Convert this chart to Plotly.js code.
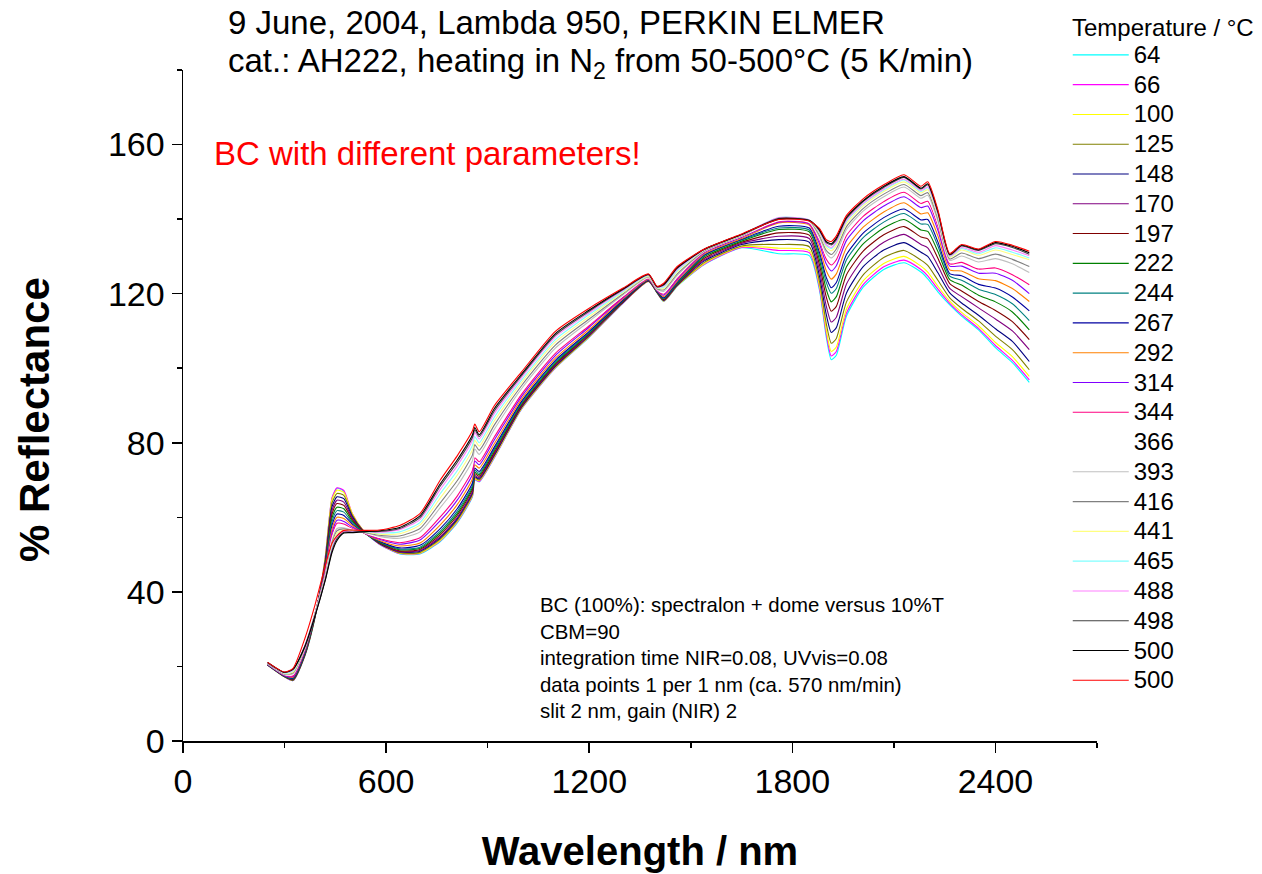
<!DOCTYPE html>
<html><head><meta charset="utf-8">
<script src="https://cdn.plot.ly/plotly-3.0.1.min.js"></script>
<style>html,body{margin:0;padding:0;background:#fff;}#chart{width:1262px;height:874px;}</style>
</head><body><div id="chart"></div>
<script>
const wavelength = [250,300,325,360,390,420,440,455,475,500,530,580,640,700,760,810,855,862,875,920,1000,1100,1200,1300,1375,1400,1420,1460,1540,1650,1760,1850,1880,1900,1915,1930,1960,2010,2070,2130,2180,2200,2230,2265,2300,2350,2400,2450,2500];

const temperatures = ['64','66','100','125','148','170','197','222','244','267','292','314','344','366','393','416','441','465','488','498','500','500'];
const colors = ['#00FFFF','#FF00FF','#FFFF00','#808000','#000080','#800080','#800000','#008000','#008080','#0000A0','#FF8000','#8000FF','#FF0080','#FFFFFF','#C0C0C0','#808080','#FFFF80','#80FFFF','#FF80FF','#404040','#000000','#FF0000'];

const r64  = [20.4,17.2,16.2,22.8,33.0,49.0,65.0,67.8,67.0,60.5,56.5,52.8,50.2,50.2,53.5,58.5,65.5,70.0,69.5,76.0,89.0,100.0,108.3,117.5,123.3,120.3,117.9,122.0,127.8,132.3,130.7,130.2,121.0,108.5,102.3,103.5,114.0,121.8,126.5,128.3,125.8,124.0,120.5,117.0,114.0,110.3,105.5,101.5,96.2];
const r66  = [20.4,17.2,16.2,22.9,33.2,49.2,65.2,67.9,67.2,61.0,56.8,52.8,50.3,50.3,53.7,58.7,65.7,70.2,69.6,76.1,89.1,100.1,108.4,117.5,123.3,120.3,118.0,122.1,127.9,132.4,131.6,131.0,121.5,109.3,103.3,104.5,114.8,122.5,127.2,129.0,126.5,124.8,121.2,117.4,114.4,110.7,106.1,102.1,96.9];
const r100 = [20.4,17.2,16.3,22.9,33.2,49.0,64.8,67.3,66.7,61.0,56.8,52.9,50.4,50.4,53.8,58.9,65.9,70.3,69.8,76.3,89.2,100.2,108.5,117.6,123.3,120.3,118.0,122.1,128.1,132.6,132.2,131.6,122.2,110.3,104.5,105.7,115.9,123.5,128.1,130.0,127.4,125.8,122.0,118.0,115.0,111.4,106.9,103.1,97.8];
const r125 = [20.4,17.3,16.3,23.0,33.3,48.5,63.8,66.4,65.9,60.6,56.7,53.0,50.5,50.6,54.2,59.2,66.2,70.6,70.0,76.6,89.4,100.4,108.6,117.7,123.4,120.4,118.1,122.2,128.4,132.8,133.2,132.6,123.3,112.1,106.7,108.0,117.8,125.1,129.7,131.6,129.0,127.6,123.6,118.9,116.1,112.7,108.6,105.0,99.6];
const r148 = [20.4,17.3,16.4,23.1,33.4,48.0,62.8,65.5,65.0,60.2,56.6,53.0,50.7,50.9,54.5,59.6,66.6,70.9,70.3,76.8,89.6,100.6,108.8,117.7,123.4,120.4,118.2,122.3,128.8,133.2,134.5,133.8,124.8,114.5,109.6,110.9,120.2,127.3,131.7,133.7,131.1,130.0,125.6,120.2,117.5,114.2,110.6,107.2,101.8];
const r170 = [20.5,17.3,16.5,23.2,33.5,47.6,61.8,64.6,64.1,59.8,56.5,53.1,50.8,51.1,54.8,59.9,66.9,71.2,70.6,77.1,89.8,100.8,108.9,117.8,123.5,120.4,118.3,122.4,129.1,133.5,135.4,134.8,126.3,116.8,112.4,113.7,122.6,129.4,133.8,135.9,133.2,132.3,127.5,121.4,119.2,116.2,113.2,110.0,105.0];
const r197 = [20.5,17.3,16.6,23.3,33.6,47.2,60.8,63.7,63.2,59.4,56.4,53.2,51.0,51.4,55.3,60.5,67.5,71.7,71.0,77.5,90.1,101.1,109.2,117.9,123.5,120.5,118.4,122.6,129.5,133.8,136.3,135.7,127.8,119.2,115.3,116.6,125.1,131.5,135.8,138.0,135.2,134.7,129.5,122.7,120.7,117.9,115.5,112.5,107.7];
const r222 = [20.5,17.4,16.7,23.5,33.7,46.8,59.8,62.7,62.3,59.0,56.3,53.3,51.3,51.7,55.8,61.0,68.0,72.1,71.4,78.0,90.4,101.4,109.4,118.1,123.6,120.5,118.6,122.7,129.9,134.1,137.2,136.6,129.1,121.2,117.8,119.2,127.2,133.4,137.6,139.9,137.1,136.7,131.3,123.8,122.3,119.6,117.8,115.1,110.3];
const r244 = [20.5,17.4,16.8,23.6,33.8,46.4,58.8,61.8,61.4,58.6,56.2,53.5,51.5,52.0,56.3,61.6,68.5,72.6,71.8,78.4,90.7,101.7,109.6,118.2,123.6,120.6,118.7,122.9,130.2,134.4,137.6,137.1,130.2,123.1,120.1,121.4,129.1,135.1,139.2,141.5,138.7,138.6,132.8,124.7,123.6,121.2,119.8,117.3,112.8];
const r267 = [20.5,17.5,16.9,23.8,33.9,46.0,57.8,60.9,60.5,58.2,56.1,53.6,51.8,52.5,57.0,62.3,69.2,73.2,72.3,78.9,91.1,102.1,109.9,118.3,123.7,120.7,118.9,123.1,130.4,134.6,138.1,137.6,131.1,124.4,121.6,123.0,130.5,136.3,140.4,142.7,139.8,139.9,133.9,125.4,124.8,122.5,121.5,119.1,115.4];
const r292 = [20.6,17.6,17.1,24.1,34.0,45.6,56.8,60.0,59.7,57.8,56.0,53.8,52.3,53.1,58.0,63.4,70.3,74.1,73.2,79.8,91.7,102.7,110.4,118.6,123.8,120.8,119.2,123.4,130.7,134.8,139.0,138.4,132.2,126.2,123.9,125.3,132.4,137.9,141.9,144.4,141.4,141.7,135.5,126.4,126.1,124.0,123.5,121.4,117.9];
const r314 = [20.6,17.6,17.3,24.4,34.1,45.2,55.8,59.2,58.9,57.4,56.0,54.1,52.8,53.9,59.1,64.6,71.5,75.1,74.1,80.8,92.4,103.4,111.0,118.9,124.0,120.9,119.6,123.8,131.0,135.1,139.2,138.7,133.4,128.0,126.1,127.5,134.3,139.6,143.5,146.0,143.1,143.5,137.0,127.4,127.4,125.5,125.5,123.6,120.0];
const r344 = [20.7,17.7,17.5,24.7,34.2,44.8,55.0,58.4,58.2,57.0,56.0,54.3,53.2,54.5,60.1,65.7,72.6,76.0,74.9,81.6,93.0,104.0,111.4,119.1,124.1,121.0,119.9,124.1,131.2,135.3,139.4,138.9,134.2,129.3,127.7,129.1,135.6,140.8,144.7,147.2,144.2,144.8,138.1,128.0,128.4,126.6,126.9,125.1,122.4];
const r366 = [20.7,17.8,17.8,24.8,34.2,44.5,54.3,57.7,57.6,56.8,56.0,54.6,53.8,55.3,61.3,67.0,73.8,77.1,75.9,82.6,93.7,104.7,112.0,119.4,124.2,121.1,120.2,124.5,131.3,135.4,139.6,139.1,134.7,130.1,128.6,130.1,136.4,141.5,145.3,147.9,144.9,145.6,138.8,128.5,129.4,127.7,128.3,126.7,124.0];
const r393 = [20.8,17.9,18.0,25.0,34.2,44.2,53.6,57.0,57.2,56.6,56.1,54.9,54.4,56.1,62.6,68.4,75.2,78.3,76.9,83.7,94.5,105.4,112.6,119.7,124.4,121.2,120.6,124.9,131.4,135.5,140.2,139.5,135.2,130.9,129.6,131.0,137.2,142.2,146.0,148.6,145.6,146.4,139.4,128.9,130.1,128.5,129.4,128.0,125.7];
const r416 = [20.8,18.0,18.3,25.2,34.1,44.0,53.0,56.4,56.9,56.4,56.1,55.2,55.0,57.0,63.9,69.8,76.7,79.5,78.0,84.8,95.3,106.2,113.2,120.0,124.6,121.4,121.0,125.3,131.5,135.6,140.3,139.6,135.7,131.6,130.5,132.0,138.0,142.9,146.7,149.3,146.3,147.1,140.1,129.3,130.9,129.4,130.6,129.2,127.3];
const r441 = [20.9,18.1,18.5,25.4,34.0,43.8,52.4,55.8,56.6,56.3,56.2,55.5,55.6,57.9,65.2,71.3,78.1,80.7,79.1,85.9,96.1,107.0,113.8,120.3,124.7,121.5,121.4,125.8,131.7,135.7,140.3,139.7,136.2,132.4,131.5,132.9,138.8,143.6,147.4,150.0,147.0,147.9,140.7,129.7,131.7,130.3,131.7,130.5,129.1];
const r465 = [20.9,18.2,18.8,25.5,33.9,43.6,51.9,55.3,56.4,56.2,56.2,55.8,56.1,58.6,66.4,72.5,79.3,81.7,80.0,86.9,96.8,107.7,114.4,120.6,124.9,121.6,121.7,126.1,131.8,135.8,140.4,139.8,136.5,132.9,132.1,133.6,139.4,144.1,147.8,150.5,147.4,148.4,141.2,130.0,132.1,130.7,132.3,131.1,129.6];
const r488 = [21.0,18.3,19.0,25.6,33.8,43.4,51.4,54.8,56.2,56.1,56.3,56.0,56.7,59.4,67.5,73.8,80.6,82.8,81.0,87.9,97.5,108.4,114.9,120.9,125.0,121.7,122.1,126.5,131.8,135.8,140.4,139.8,136.7,133.2,132.4,133.9,139.7,144.3,148.1,150.7,147.7,148.7,141.4,130.1,132.4,131.1,132.9,131.7,130.2];
const r498 = [21.0,18.4,19.2,25.5,33.7,43.2,51.0,54.3,56.0,56.0,56.2,56.2,57.0,59.9,68.4,74.7,81.4,83.5,81.7,88.6,98.0,108.9,115.3,121.1,125.1,121.8,122.3,126.8,131.9,135.9,140.2,139.7,137.0,133.7,133.1,134.5,140.2,144.8,148.5,151.2,148.1,149.2,141.8,130.4,132.8,131.6,133.4,132.4,130.6];
const r500a = [21.1,18.4,19.3,25.3,33.5,43.0,50.5,53.8,55.8,55.9,56.1,56.4,57.3,60.4,69.0,75.4,82.1,84.1,82.2,89.2,98.4,109.3,115.6,121.3,125.2,121.9,122.5,127.0,131.9,135.9,140.0,139.6,137.2,134.0,133.4,134.9,140.5,145.0,148.8,151.4,148.3,149.5,142.1,130.5,133.0,131.8,133.7,132.7,131.0];
const r500b = [21.1,18.5,19.5,27.5,36.5,47.0,53.0,55.0,56.5,56.6,56.5,56.6,57.8,61.0,70.0,76.5,83.2,85.0,83.0,90.0,99.0,109.9,116.1,121.5,125.3,122.0,122.8,127.3,132.0,136.0,139.9,139.5,137.5,134.5,134.0,135.5,141.0,145.5,149.2,151.9,148.8,150.0,142.5,130.8,133.2,132.0,134.0,133.0,131.4];

const seriesValues = [r64,r66,r100,r125,r148,r170,r197,r222,r244,r267,r292,r314,r344,r366,r393,r416,r441,r465,r488,r498,r500a,r500b];

const FONT = 'Liberation Sans, Arial, Helvetica, sans-serif';

const traces = seriesValues.map((ys, i) => ({
  type: 'scatter', mode: 'lines',
  x: wavelength, y: ys,
  name: '<span style="font-size:24px">' + temperatures[i] + '</span>',
  line: {color: colors[i], width: 1.1, shape: 'spline', smoothing: 0.6}
}));

// paper area spans px 35..741 vertically; y axis occupies the lower part
const layout = {
  width: 1262, height: 874,
  margin: {l: 183, r: 165, t: 35, b: 133},
  paper_bgcolor: '#ffffff', plot_bgcolor: '#ffffff',
  font: {family: FONT, color: '#000000'},
  showlegend: true,
  legend: {
    x: 0.968, xanchor: 'left', y: 1.0, yanchor: 'top',
    font: {family: FONT, size: 20.6, color: '#000'},
    itemwidth: 56,
    bgcolor: 'rgba(0,0,0,0)', borderwidth: 0, tracegroupgap: 0
  },
  xaxis: {
    range: [0, 2700], tick0: 0, dtick: 600,
    ticks: 'outside', ticklen: 10, tickwidth: 1.5, tickcolor: '#000',
    minor: {dtick: 300, ticks: 'outside', ticklen: 5, tickwidth: 1.5, tickcolor: '#000'},
    showline: true, linewidth: 1.5, linecolor: '#000',
    showgrid: false, zeroline: false,
    tickfont: {family: FONT, size: 34, color: '#000'},
    title: {text: '<b>Wavelength / nm</b>', font: {family: FONT, size: 40, color: '#000'}, standoff: 37}
  },
  yaxis: {
    domain: [0, 0.9504],
    range: [0, 180], tick0: 0, dtick: 40,
    ticks: 'outside', ticklen: 10, tickwidth: 1.5, tickcolor: '#000',
    minor: {dtick: 20, ticks: 'outside', ticklen: 5, tickwidth: 1.5, tickcolor: '#000'},
    showline: true, linewidth: 1.5, linecolor: '#000',
    showgrid: false, zeroline: false,
    tickfont: {family: FONT, size: 34, color: '#000'}
  },
  annotations: [
    {xref: 'paper', yref: 'paper', x: -0.1619, y: 0.4547, xanchor: 'center', yanchor: 'middle', showarrow: false,
     textangle: -90, text: '<b>% Reflectance</b>', font: {family: FONT, size: 42, color: '#000'}},
    {xref: 'paper', yref: 'paper', x: 0.047, y: 1.0184, xanchor: 'left', yanchor: 'middle', showarrow: false,
     text: '9 June, 2004, Lambda 950, PERKIN ELMER', font: {family: FONT, size: 33, color: '#000'}},
    {xref: 'paper', yref: 'paper', x: 0.047, y: 0.9603, xanchor: 'left', yanchor: 'middle', showarrow: false,
     text: 'cat.: AH222, heating in N<sub>2</sub> from 50-500°C (5 K/min)', font: {family: FONT, size: 33, color: '#000'}},
    {xref: 'paper', yref: 'paper', x: 0.032, y: 0.8326, xanchor: 'left', yanchor: 'middle', showarrow: false,
     text: 'BC with different parameters!', font: {family: FONT, size: 33, color: '#FF0000'}},
    {xref: 'paper', yref: 'paper', x: 0.388, y: 0.2110, xanchor: 'left', yanchor: 'top', align: 'left', showarrow: false,
     text: 'BC (100%): spectralon + dome versus 10%T<br>CBM=90<br>integration time NIR=0.08, UVvis=0.08<br>data points 1 per 1 nm (ca. 570 nm/min)<br>slit 2 nm, gain (NIR) 2',
     font: {family: FONT, size: 20.4, color: '#000'}},
    {xref: 'paper', yref: 'paper', x: 0.971, y: 1.0113, xanchor: 'left', yanchor: 'middle', showarrow: false,
     text: 'Temperature / °C', font: {family: FONT, size: 24, color: '#000'}}
  ]
};

Plotly.newPlot('chart', traces, layout, {staticPlot: true, displayModeBar: false});
</script>
</body></html>
